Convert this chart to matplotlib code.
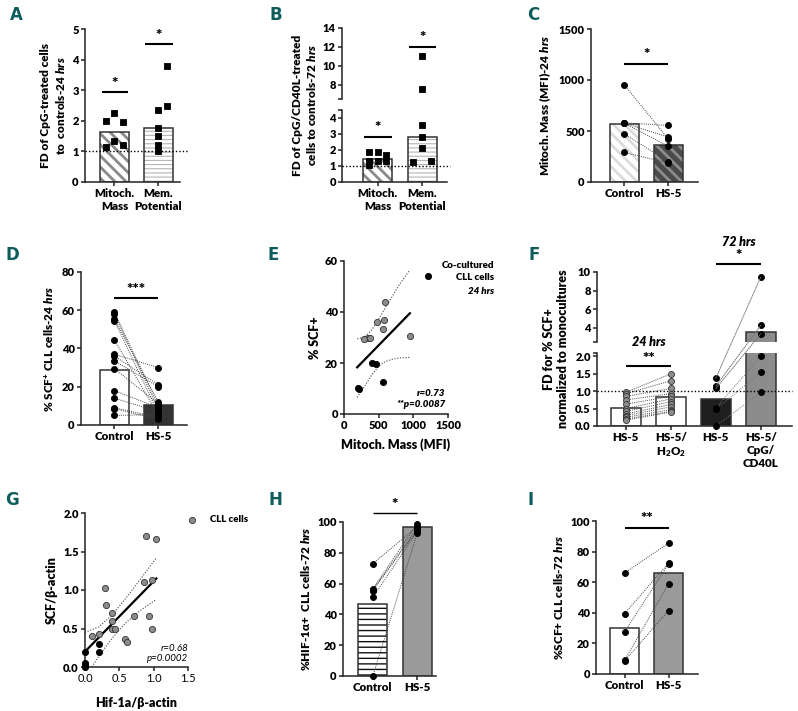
import numpy as np
import matplotlib.pyplot as plt
from matplotlib.patches import ConnectionPatch

plt.rcParams['font.family'] = ['Lato', 'DejaVu Sans']
plt.rcParams['font.weight'] = 'heavy'
plt.rcParams['axes.labelweight'] = 'heavy'
plt.rcParams['font.size'] = 8
plt.rcParams['mathtext.fontset'] = 'custom'
plt.rcParams['mathtext.rm'] = 'Lato:heavy'
plt.rcParams['mathtext.it'] = 'Lato:italic:heavy'
plt.rcParams['mathtext.bf'] = 'Lato:heavy'
plt.rcParams['mathtext.fallback'] = 'stixsans'

# ---- data ----
# A
a_cats = ['Mitoch.\nMass', 'Mem.\nPotential']
a_bars = [1.65, 1.77]
a_mito = [2.0, 2.25, 1.95, 1.35, 1.15, 1.2]
a_mem = [3.8, 2.35, 2.5, 1.78, 1.5, 1.2, 1.0]
a_sig = [2.95, 4.5]
# B
b_cats = ['Mitoch.\nMass', 'Mem.\nPotential']
b_bars = [1.45, 2.8]
b_mito = [1.85, 1.9, 1.7, 1.3, 1.3, 1.3, 1.08]
b_mem = [11.0, 7.6, 3.55, 2.8, 2.15, 1.25, 1.3]
b_sig = [2.8, 12.0]
# C
c_cats = ['Control', 'HS-5']
c_bars = [570, 360]
c_ctrl = [950, 580, 575, 575, 470, 290]
c_hs5 = [420, 555, 440, 350, 200, 185]
# D
d_cats = ['Control', 'HS-5']
d_bars = [28.5, 10.5]
d_ctrl = [59, 58, 55.5, 54.5, 44.5, 37, 36, 33.5, 29.5, 18, 14, 9, 8.5, 5]
d_hs5 = [10, 8, 12, 6, 5, 30, 21, 20, 11, 9, 7, 4, 3, 5.5]
# E
e_gray_x = [590, 470, 570, 560, 350, 370, 290, 950]
e_gray_y = [44, 36, 37, 33.5, 30, 30, 29.3, 30.6]
e_black_x = [1210, 410, 460, 560, 195, 215]
e_black_y = [54, 20, 19.5, 12.4, 10.3, 9.9]
e_fit_x = [190, 950]
e_fit_y = [18.3, 39.5]
e_band_x = [190, 300, 400, 500, 600, 700, 800, 950]
e_band_hi = [29.5, 30.2, 33, 37.2, 41.8, 46.3, 50.8, 56.5]
e_band_lo = [6.5, 11, 15.3, 18.8, 20.6, 21.5, 22, 22.2]
# F
f_cats = ['HS-5', 'HS-5/\nH$_2$O$_2$', 'HS-5', 'HS-5/\nCpG/\nCD40L']
f_bars = [0.52, 0.83, 0.78, 3.6]
f_hs5_24 = [0.97, 0.93, 0.85, 0.75, 0.63, 0.5, 0.42, 0.35, 0.3, 0.25, 0.2, 0.17]
f_h2o2 = [1.5, 1.3, 1.08, 0.93, 0.85, 0.78, 0.7, 0.62, 0.55, 0.47, 0.42, 0.4]
f_hs5_72 = [1.38, 1.15, 1.08, 0.52, 0.48, 0.0]
f_cpg = [9.5, 4.3, 3.4, 2.0, 1.55, 0.97]
# G
g_gray_x = [0.89, 1.04, 0.86, 0.97, 0.29, 0.30, 0.40, 0.40, 0.72, 0.93, 0.97, 0.40, 0.44, 0.58, 0.61, 0.10, 0.20]
g_gray_y = [1.70, 1.66, 1.11, 1.13, 1.03, 0.80, 0.70, 0.60, 0.66, 0.66, 0.49, 0.50, 0.49, 0.37, 0.32, 0.40, 0.43]
g_black_x = [0.0, 0.2, 0.2, 0.0, 0.0, 0.0]
g_black_y = [0.20, 0.30, 0.20, 0.05, 0.02, 0.0]
g_fit_x = [0.0, 1.04]
g_fit_y = [0.20, 1.15]
g_band_x = [0.0, 0.2, 0.4, 0.6, 0.8, 1.04]
g_band_hi = [0.45, 0.52, 0.68, 0.90, 1.13, 1.42]
g_band_lo_x = [0.1, 0.2, 0.4, 0.6, 0.8, 1.04]
g_band_lo = [0.0, 0.14, 0.38, 0.58, 0.73, 0.88]
# H
h_cats = ['Control', 'HS-5']
h_bars = [47, 96.5]
h_ctrl = [73, 56.5, 56, 55.5, 51, 0]
h_hs5 = [97, 99, 96, 95, 94, 93]
# I
i_cats = ['Control', 'HS-5']
i_bars = [30, 66]
i_ctrl = [66, 39.5, 27.5, 9, 8.5]
i_hs5 = [85.5, 72.5, 72, 59, 41.5]

W, H = 798, 711
fig = plt.figure(figsize=(W / 100, H / 100), dpi=100)
TEAL = '#0f5c5c'
TICK = 8
CAT = 8.3
YLAB = 8.5


def axbox(l, t, r, b):
    return fig.add_axes([l / W, 1 - b / H, (r - l) / W, (b - t) / H])


def style(ax, bottom=True):
    for s in ['top', 'right']:
        ax.spines[s].set_visible(False)
    for s in ['left', 'bottom']:
        ax.spines[s].set_linewidth(1.1)
        ax.spines[s].set_color('#222222')
    ax.tick_params(width=1.1, length=3, labelsize=TICK, pad=1.5, color='#222222')
    if not bottom:
        ax.spines['bottom'].set_visible(False)
        ax.tick_params(axis='x', bottom=False, labelbottom=False)


def hbar(ax, x, h, w, face, hatch=None, hcol=None, hlw=1.0):
    with plt.rc_context({'hatch.linewidth': hlw}):
        ax.bar(x, h, w, color=face, edgecolor=hcol if hatch else face,
               hatch=hatch, linewidth=0, zorder=2)
    ax.bar(x, h, w, fill=False, edgecolor='#333333', linewidth=1.1, zorder=3)


def dots(ax, xs, ys, marker='o', s=19, fc='k', ec='k'):
    lo, hi = ax.get_ylim()
    for x, y in zip(xs, ys):
        if lo <= y <= hi:
            ax.scatter([x], [y], marker=marker, s=s, facecolor=fc, edgecolor=ec,
                       linewidth=0.6, zorder=5, clip_on=False)


def pairs(ax, x0, x1, y0s, y1s):
    for a, b in zip(y0s, y1s):
        ax.plot([x0, x1], [a, b], ls=(0, (1, 1.2)), color='#444444', lw=0.7, zorder=4)


def sig(ax, x0, x1, y, txt, ty, lw=1.5, fs=11):
    ax.plot([x0, x1], [y, y], color='k', lw=lw, clip_on=False, solid_capstyle='butt', zorder=6)
    ax.text((x0 + x1) / 2, ty, txt, ha='center', va='center', fontsize=fs, clip_on=False)


def letter(x, y, s):
    fig.text(x / W, 1 - y / H, s, ha='center', va='center', fontsize=12,
             fontweight='bold', color=TEAL, family=['Liberation Sans Narrow', 'DejaVu Sans'])


DOT = (0, (1, 1.5))

# ---- A ----
ax = axbox(85, 29, 180, 182)
style(ax)
ax.set_xlim(-0.67, 1.49)
ax.set_ylim(0, 5)
hbar(ax, 0, a_bars[0], 0.66, 'white', '\\\\\\', '#8a8a8a', 2.0)
hbar(ax, 1, a_bars[1], 0.66, 'white', '----', '#b5b5b5', 0.8)
dots(ax, [-0.2, 0, 0.2, 0, -0.2, 0.2], a_mito, marker='s')
dots(ax, [1.2, 1, 1.2, 1, 1, 1, 1], a_mem, marker='s')
ax.plot([-0.67, 1.67], [1, 1], ls=DOT, color='k', lw=1, clip_on=False, zorder=4)
sig(ax, -0.28, 0.3, a_sig[0], '*', 3.22)
sig(ax, 0.7, 1.32, a_sig[1], '*', 4.8)
ax.set_yticks([0, 1, 2, 3, 4, 5])
ax.set_xticks([0, 1])
ax.set_xticklabels(a_cats, fontsize=CAT)
ax.set_ylabel('FD of CpG-treated cells\nto  controls-$\\it{24\\ hrs}$', fontsize=YLAB, labelpad=4)
letter(16, 15, 'A')

# ---- B ----
up = axbox(342, 28, 447, 99)
lo = axbox(342, 110, 447, 182)
style(up, bottom=False)
style(lo)
for a in (up, lo):
    a.set_xlim(-0.80, 1.56)
up.set_ylim(6.5, 14)
lo.set_ylim(0, 4.5)
up.set_yticks([6.5, 8, 10, 12, 14])
up.set_yticklabels(['', '8', '10', '12', '14'])
lo.set_yticks([0, 1, 2, 3, 4, 4.5])
lo.set_yticklabels(['0', '1', '2', '3', '4', ''])
hbar(lo, 0, b_bars[0], 0.65, 'white', '\\\\\\', '#8a8a8a', 2.0)
hbar(lo, 1, b_bars[1], 0.65, 'white', '----', '#b5b5b5', 0.8)
for a in (up, lo):
    dots(a, [-0.2, 0, 0.2, -0.2, 0, 0.2, -0.2], b_mito, marker='s')
    dots(a, [1, 1, 1, 1, 1, 0.8, 1.2], b_mem, marker='s')
lo.plot([-0.80, 1.63], [1, 1], ls=DOT, color='k', lw=1, clip_on=False, zorder=4)
sig(lo, -0.3, 0.32, b_sig[0], '*', 3.4)
sig(up, 0.7, 1.32, b_sig[1], '*', 13.0)
lo.set_xticks([0, 1])
lo.set_xticklabels(b_cats, fontsize=CAT)
fig.text(305 / W, 1 - 105 / H, 'FD of CpG/CD40L-treated\ncells to controls-$\\it{72\\ hrs}$',
         rotation=90, ha='center', va='center', fontsize=YLAB)
letter(276, 15, 'B')

# ---- C ----
ax = axbox(591, 29, 698, 182)
style(ax)
ax.set_xlim(-0.76, 1.67)
ax.set_ylim(0, 1500)
hbar(ax, 0, c_bars[0], 0.66, 'white', '\\\\\\', '#dcdcdc', 2.0)
hbar(ax, 1, c_bars[1], 0.66, '#4a4a4a', '\\\\\\', '#8c8c8c', 2.0)
pairs(ax, 0, 1, c_ctrl, c_hs5)
dots(ax, [0] * len(c_ctrl), c_ctrl)
dots(ax, [1] * len(c_hs5), c_hs5)
sig(ax, 0, 1, 1160, '*', 1250)
ax.set_yticks([0, 500, 1000, 1500])
ax.set_xticks([0, 1])
ax.set_xticklabels(c_cats, fontsize=CAT)
ax.set_ylabel('Mitoch. Mass (MFI)-$\\it{24\\ hrs}$', fontsize=YLAB, labelpad=4)
letter(533, 15, 'C')

# ---- D ----
ax = axbox(81, 272, 187, 425)
style(ax)
ax.set_xlim(-0.76, 1.65)
ax.set_ylim(0, 80)
hbar(ax, 0, d_bars[0], 0.66, 'white')
hbar(ax, 1, d_bars[1], 0.66, '#333333')
pairs(ax, 0, 1, d_ctrl, d_hs5)
dots(ax, [0] * len(d_ctrl), d_ctrl)
dots(ax, [1] * len(d_hs5), d_hs5)
sig(ax, 0, 1, 66.6, '***', 70.8)
ax.set_yticks([0, 20, 40, 60, 80])
ax.set_xticks([0, 1])
ax.set_xticklabels(d_cats, fontsize=CAT)
ax.set_ylabel('% SCF$^{+}$ CLL cells-$\\it{24\\ hrs}$', fontsize=YLAB, labelpad=4)
letter(12, 255, 'D')

# ---- E ----
ax = axbox(344, 261, 448, 414)
style(ax)
ax.set_xlim(0, 1500)
ax.set_ylim(0, 60)
ax.plot(e_band_x, e_band_hi, ls=DOT, color='#444444', lw=0.8)
ax.plot(e_band_x, e_band_lo, ls=DOT, color='#444444', lw=0.8)
ax.plot(e_fit_x, e_fit_y, color='k', lw=1.6)
dots(ax, e_gray_x, e_gray_y, s=20, fc='#8c8c8c', ec='#333333')
dots(ax, e_black_x, e_black_y, s=20)
ax.set_xticks([0, 500, 1000, 1500])
ax.set_yticks([0, 20, 40, 60])
ax.set_xlabel('Mitoch. Mass (MFI)', fontsize=9, labelpad=5)
ax.set_ylabel('% SCF+', fontsize=9, labelpad=3)
ax.text(1460, 8.2, 'r=0.73', ha='right', va='center', fontsize=7, style='italic')
ax.text(1460, 3.9, '**p=0.0087', ha='right', va='center', fontsize=7, style='italic')
fig.text(494 / W, 1 - 265 / H, 'Co-cultured', ha='right', va='center', fontsize=7)
fig.text(494 / W, 1 - 278 / H, 'CLL cells', ha='right', va='center', fontsize=7)
fig.text(494 / W, 1 - 291 / H, '24 hrs', ha='right', va='center', fontsize=7, style='italic')
letter(273, 255, 'E')

# ---- F ----
up = axbox(597, 272, 792, 342)
lo = axbox(597, 353, 792, 426)
style(up, bottom=False)
style(lo)
for a in (up, lo):
    a.set_xlim(-0.64, 3.69)
up.set_ylim(2.5, 10)
lo.set_ylim(0, 2.1)
up.set_yticks([2.5, 4, 6, 8, 10])
up.set_yticklabels(['', '4', '6', '8', '10'])
lo.set_yticks([0, 0.5, 1.0, 1.5, 2.0, 2.1])
lo.set_yticklabels(['0.0', '0.5', '1.0', '1.5', '2.0', ''])
fcols = ['white', 'white', '#1e1e1e', '#8c8c8c']
for a in (up, lo):
    for i in range(4):
        hbar(a, i, f_bars[i], 0.67, fcols[i])
pairs(lo, 0, 1, f_hs5_24, f_h2o2)
for a, b in zip(f_hs5_72, f_cpg):
    if b <= 2.1:
        lo.plot([2, 3], [a, b], ls=(0, (1, 1.2)), color='#777777', lw=0.7, zorder=4)
    else:
        cp = ConnectionPatch(xyA=(2, a), coordsA='data', axesA=lo,
                             xyB=(3, b), coordsB='data', axesB=up,
                             ls=(0, (1, 1.2)), color='#777777', lw=0.7, zorder=4)
        fig.add_artist(cp)
dots(lo, [0] * len(f_hs5_24), f_hs5_24, fc='#8c8c8c', ec='#333333')
dots(lo, [1] * len(f_h2o2), f_h2o2, fc='#8c8c8c', ec='#333333')
dots(lo, [2] * len(f_hs5_72), f_hs5_72)
for a in (up, lo):
    dots(a, [3] * len(f_cpg), f_cpg)
lo.plot([-0.64, 3.69], [1, 1], ls=DOT, color='k', lw=1, clip_on=False, zorder=4)
sig(lo, 0, 1, 1.72, '**', 1.95)
lo.text(0.5, 2.42, '24 hrs', ha='center', va='center', fontsize=9, style='italic')
sig(up, 2, 3, 10.86, '*', 11.8)
up.text(2.5, 13.2, '72 hrs', ha='center', va='center', fontsize=9, style='italic')
lo.set_xticks([0, 1, 2, 3])
lo.set_xticklabels(f_cats, fontsize=CAT, va='top')
fig.text(556 / W, 1 - 349 / H, 'FD for % SCF+\nnormalized to monocultures',
         rotation=90, ha='center', va='center', fontsize=9)
letter(534, 255, 'F')

# ---- G ----
ax = axbox(85, 513, 188, 667)
style(ax)
ax.set_xlim(0, 1.5)
ax.set_ylim(0, 2)
ax.plot(g_band_x, g_band_hi, ls=DOT, color='#444444', lw=0.8)
ax.plot(g_band_lo_x, g_band_lo, ls=DOT, color='#444444', lw=0.8)
ax.plot(g_fit_x, g_fit_y, color='k', lw=1.6)
dots(ax, g_gray_x, g_gray_y, s=20, fc='#8c8c8c', ec='#333333')
dots(ax, g_black_x, g_black_y, s=20)
ax.set_xticks([0, 0.5, 1.0, 1.5])
ax.set_xticklabels(['0.0', '0.5', '1.0', '1.5'], fontweight='normal')
ax.set_yticks([0, 0.5, 1.0, 1.5, 2.0])
ax.set_yticklabels(['0.0', '0.5', '1.0', '1.5', '2.0'])
ax.set_xlabel('Hif-1a/β-actin', fontsize=9, labelpad=9)
ax.set_ylabel('SCF/β-actin', fontsize=9, labelpad=4)
ax.scatter([1.56], [1.91], s=20, facecolor='#8c8c8c', edgecolor='#333333', linewidth=0.6, clip_on=False)
ax.text(1.82, 1.91, 'CLL cells', ha='left', va='center', fontsize=7)
ax.text(1.5, 0.234, 'r=0.68', ha='right', va='center', fontsize=7, style='italic', fontweight='normal')
ax.text(1.5, 0.104, 'p=0.0002', ha='right', va='center', fontsize=7, style='italic', fontweight='normal')
letter(12, 500, 'G')

# ---- H ----
ax = axbox(343, 522, 436, 676)
style(ax)
ax.set_xlim(-0.67, 1.42)
ax.set_ylim(0, 100)
hbar(ax, 0, h_bars[0], 0.66, 'white', '---', '#111111', 1.0)
hbar(ax, 1, h_bars[1], 0.66, '#9a9a9a')
pairs(ax, 0, 1, h_ctrl, h_hs5)
dots(ax, [0] * len(h_ctrl), h_ctrl)
dots(ax, [1] * len(h_hs5), h_hs5)
sig(ax, 0, 1, 105.8, '*', 111.5, lw=1.0)
ax.set_yticks([0, 20, 40, 60, 80, 100])
ax.set_xticks([0, 1])
ax.set_xticklabels(h_cats, fontsize=CAT)
ax.set_ylabel('%HIF-1α+  CLL cells-$\\it{72\\ hrs}$', fontsize=YLAB, labelpad=4)
letter(275, 500, 'H')

# ---- I ----
ax = axbox(596, 521, 698, 674)
style(ax)
ax.set_xlim(-0.65, 1.67)
ax.set_ylim(0, 100)
hbar(ax, 0, i_bars[0], 0.66, 'white')
hbar(ax, 1, i_bars[1], 0.66, '#9a9a9a')
pairs(ax, 0, 1, i_ctrl, i_hs5)
dots(ax, [0] * len(i_ctrl), i_ctrl)
dots(ax, [1] * len(i_hs5), i_hs5)
sig(ax, 0, 1, 95.4, '**', 101.5)
ax.set_yticks([0, 20, 40, 60, 80, 100])
ax.set_xticks([0, 1])
ax.set_xticklabels(i_cats, fontsize=CAT)
ax.set_ylabel('%SCF+ CLL cells-$\\it{72\\ hrs}$', fontsize=YLAB, labelpad=4)
letter(531, 500, 'I')

fig.savefig('out.png', dpi=100)
